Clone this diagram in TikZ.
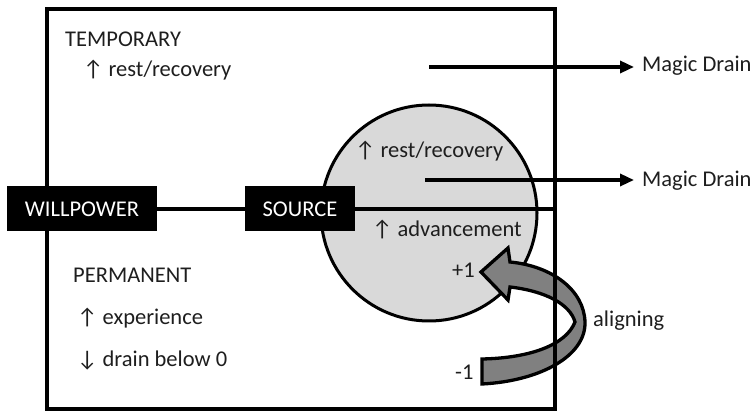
\documentclass[tikz,border=0pt]{standalone}
\usepackage{fontspec}
\setmainfont{Carlito}
\usepackage{tikz}
\usetikzlibrary{arrows.meta}

\definecolor{poolgray}{RGB}{217,217,217}
\definecolor{bandgray}{RGB}{128,128,128}
\definecolor{inkgray}{RGB}{30,30,30}

\tikzset{
  txt/.style={anchor=base west, inner sep=0pt, text=inkgray, font=\fontsize{22.5}{26}\selectfont},
  blackbox/.style={fill=black, text=white, inner sep=0pt, minimum height=45pt, font=\fontsize{22.5}{26}\selectfont},
  drain/.style={-{Triangle[length=14pt,width=12pt]}, line width=3.3pt, shorten >=8pt},
}

\begin{document}
\begin{tikzpicture}[x=1pt, y=-1pt]
	\useasboundingbox (0,0) rectangle (755,411);
	% pool and band
	\node[draw, line width=3pt, fill=poolgray, circle, minimum size=216pt, inner sep=0pt] (pool) at (429,213) {};
	\draw[fill=bandgray, line width=3.3pt] (482,384) .. controls (540,381) and (586,356) .. (585,322)
		.. controls (584,290) and (552,266) .. (510,262)
		-- (508,248) -- (481,272) -- (508,300) -- (510,287)
		.. controls (545,291) and (570,304) .. (575,322)
		.. controls (566,345) and (530,358) .. (482,359) -- cycle;
	%
	\node[draw, line width=3.3pt, outer sep=0pt, minimum width=508pt, minimum height=400pt] (frame) at (301,209) {};
	\node[blackbox, minimum width=150pt] (will) at (82,209) {WILLPOWER};
	\node[blackbox, minimum width=110pt] (src) at (300,209) {SOURCE};
	\draw[line width=3.3pt] (will.east) -- (src.west);
	\draw[line width=3.3pt] (src.east) -- (frame.east);
	%
	\node[txt] (temp) at (65,47) {TEMPORARY};
	\node[txt] (tempRest) at (83,77) {↑ rest/recovery};
	\node[txt] (poolRest) at (355,158) {↑ rest/recovery};
	\node[txt] (adv) at (372,237) {↑ advancement};
	\node[txt] (perm) at (73,283) {PERMANENT};
	\node[txt] (exp) at (77,325) {↑ experience};
	\node[txt] (below) at (77,367) {↓ drain below 0};
	\node[txt] (plus) at (452,278) {+1};
	\node[txt] (minus) at (455,380) {-1};
	\node[txt] (align) at (593,327) {aligning};
	%
	\node[txt] (drainTop) at (642,72) {Magic Drain};
	\node[txt] (drainMid) at (642,187) {Magic Drain};
	\coordinate (tempOut) at (429,67);
	\coordinate (poolOut) at (425,180);
	\draw[drain] (tempOut) -- (tempOut -| drainTop.west);
	\draw[drain] (poolOut) -- (poolOut -| drainMid.west);
\end{tikzpicture}
\end{document}
